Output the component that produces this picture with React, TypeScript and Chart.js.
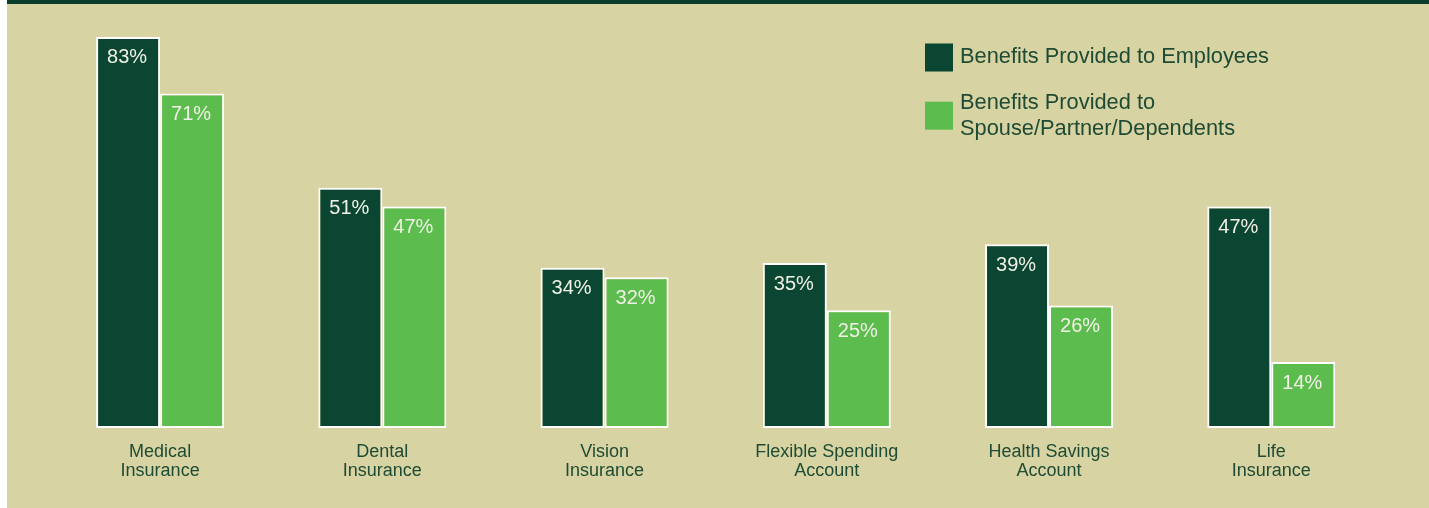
import React, { useEffect, useRef } from "react";
import { Chart, registerables } from "chart.js";

Chart.register(...registerables);

const categories: string[][] = [
  ["Medical", "Insurance"],
  ["Dental", "Insurance"],
  ["Vision", "Insurance"],
  ["Flexible Spending", "Account"],
  ["Health Savings", "Account"],
  ["Life", "Insurance"],
];
const employeeValues: number[] = [83, 51, 34, 35, 39, 47];
const spouseValues: number[] = [71, 47, 32, 25, 26, 14];
const seriesLabels: string[][] = [
  ["Benefits Provided to Employees"],
  ["Benefits Provided to", "Spouse/Partner/Dependents"],
];

const BG = "#d8d3a3";
const DARK = "#0b4633";
const LIGHT = "#5cbc4e";
const TEXT = "#1e4b33";
const BAND = "#0a3d29";
const FONT = "'Liberation Sans', Arial, sans-serif";

const valueLabelPlugin = {
  id: "valueLabels",
  afterDatasetsDraw(chart: any) {
    const ctx = chart.ctx;
    ctx.save();
    ctx.font = `20px ${FONT}`;
    ctx.fillStyle = "#f0f1e4";
    ctx.textAlign = "center";
    ctx.textBaseline = "middle";
    chart.data.datasets.forEach((ds: any, di: number) => {
      const meta = chart.getDatasetMeta(di);
      meta.data.forEach((bar: any, i: number) => {
        ctx.fillText(`${ds.data[i]}%`, bar.x - 1, bar.y + 21);
      });
    });
    ctx.restore();
  },
};

const legendPlugin = {
  id: "customLegend",
  afterDraw(chart: any) {
    const ctx = chart.ctx;
    ctx.save();
    const boxX = 918;
    const boxes = [39.5, 97.7];
    const baselines = [[58.7], [105.3, 131]];
    chart.data.datasets.forEach((ds: any, di: number) => {
      ctx.fillStyle = ds.backgroundColor;
      ctx.fillRect(boxX, boxes[di], 28, 28);
      ctx.fillStyle = TEXT;
      ctx.font = `21.8px ${FONT}`;
      ctx.textAlign = "left";
      ctx.textBaseline = "alphabetic";
      const lines: string[] = ds.legendLines;
      lines.forEach((ln, li) => {
        ctx.fillText(ln, boxX + 35, baselines[di][li]);
      });
    });
    ctx.restore();
  },
};

export default function App() {
  const ref = useRef<HTMLCanvasElement | null>(null);

  useEffect(() => {
    document.body.style.margin = "0";
    if (!ref.current) return;
    const chart = new Chart(ref.current, {
      type: "bar",
      data: {
        labels: categories as any,
        datasets: [
          {
            label: seriesLabels[0].join(" "),
            legendLines: seriesLabels[0],
            data: employeeValues,
            backgroundColor: DARK,
            borderColor: "#ffffff",
            borderWidth: 2,
            borderSkipped: false,
          } as any,
          {
            label: seriesLabels[1].join(" "),
            legendLines: seriesLabels[1],
            data: spouseValues,
            backgroundColor: LIGHT,
            borderColor: "#ffffff",
            borderWidth: 2,
            borderSkipped: false,
          } as any,
        ],
      },
      options: {
        animation: false,
        responsive: false,
        datasets: {
          bar: { categoryPercentage: 0.576, barPercentage: 1 },
        },
        layout: { padding: { left: 42, right: 46.6, top: 0, bottom: 0 } },
        plugins: {
          legend: { display: false },
          tooltip: { enabled: false },
        },
        scales: {
          x: {
            grid: { display: false, drawTicks: false },
            border: { display: false },
            ticks: {
              color: TEXT,
              font: { family: FONT, size: 18, lineHeight: "19px" },
              padding: 15,
              maxRotation: 0,
              autoSkip: false,
            },
            afterFit: (scale: any) => {
              scale.height = 80;
            },
          },
          y: {
            display: false,
            min: 0,
            max: 90,
          },
        },
      } as any,
      plugins: [valueLabelPlugin, legendPlugin],
    });
    return () => chart.destroy();
  }, []);

  return (
    <div style={{ paddingLeft: 7, background: "#fff", width: 1422, height: 508 }}>
      <div
        style={{
          background: BG,
          borderTop: `4px solid ${BAND}`,
          width: 1422,
          height: 504,
        }}
      >
        <canvas ref={ref} width={1422} height={504} style={{ display: "block" }} />
      </div>
    </div>
  );
}
